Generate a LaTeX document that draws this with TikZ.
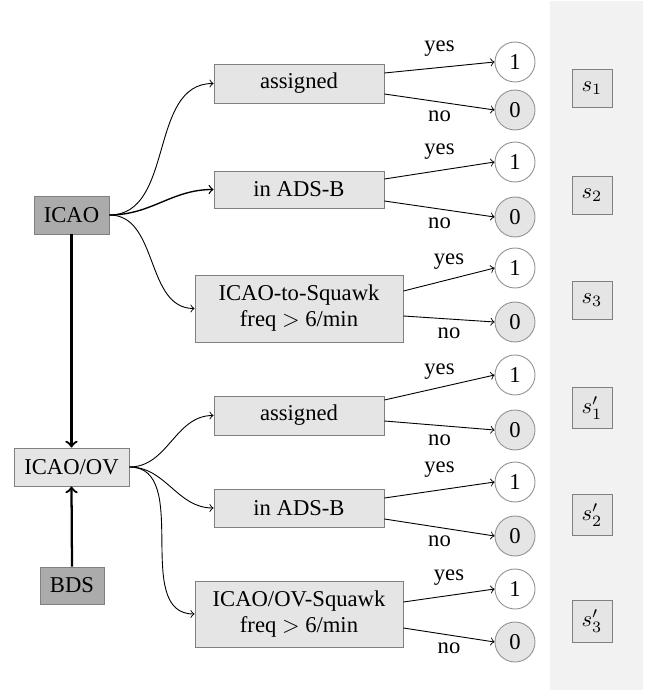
\documentclass[tikz,border=0pt]{standalone}
\usepackage{fontspec}
\setmainfont{Liberation Serif}
\newcommand\pxu{0.442pt}
\tikzset{
  x=\pxu, y=-\pxu,
  box/.style={draw=gray, fill=gray!20, inner sep=1pt, align=center, font=\fontsize{10}{11.5}\selectfont},
  darkbox/.style={box, fill=gray!66},
  one/.style={circle, draw=gray!85, fill=white, minimum size=40*\pxu, inner sep=0pt, font=\fontsize{10}{12}\selectfont},
  zero/.style={one, fill=gray!20},
  sbox/.style={draw=gray, fill=gray!20, minimum width=40*\pxu, minimum height=38*\pxu, inner sep=0pt},
  arr/.style={->, >=to},
  vert/.style={->, >=to, line width=1pt},
  lbl/.style={font=\fontsize{10}{12}\selectfont, inner sep=0pt},
}
\begin{document}
\begin{tikzpicture}
\useasboundingbox (0,0) rectangle (646,691);
\fill[gray!10] (550,1) rectangle (643,690);

% source nodes
\node[darkbox, minimum width=75*\pxu, minimum height=38*\pxu] (icao) at (71.5,215) {ICAO};
\node[box, minimum width=115*\pxu, minimum height=38*\pxu] (icaoov) at (71.5,467) {ICAO/OV};
\node[darkbox, minimum width=64*\pxu, minimum height=37*\pxu] (bds) at (72,585.5) {BDS};

% test boxes
\node[box, minimum width=170*\pxu, minimum height=39*\pxu] (a1) at (299,83.5) {assigned};
\node[box, minimum width=170*\pxu, minimum height=37*\pxu] (b1) at (299,189.5) {in ADS-B};
\node[box, minimum width=208*\pxu, minimum height=67*\pxu] (c1) at (299,308.5) {ICAO-to-Squawk\\freq $>$ 6/min};
\node[box, minimum width=170*\pxu, minimum height=39*\pxu] (a2) at (299,415.5) {assigned};
\node[box, minimum width=170*\pxu, minimum height=38*\pxu] (b2) at (299,508) {in ADS-B};
\node[box, minimum width=208*\pxu, minimum height=66*\pxu] (c2) at (299,614) {ICAO/OV-Squawk\\freq $>$ 6/min};

% result circles
\node[one]  (a1y) at (515,62)  {1};
\node[zero] (a1n) at (515,110) {0};
\node[one]  (b1y) at (515,162) {1};
\node[zero] (b1n) at (515,217) {0};
\node[one]  (c1y) at (515,268) {1};
\node[zero] (c1n) at (515,322) {0};
\node[one]  (a2y) at (515,375) {1};
\node[zero] (a2n) at (515,430) {0};
\node[one]  (b2y) at (515,482) {1};
\node[zero] (b2n) at (515,536) {0};
\node[one]  (c2y) at (515,589) {1};
\node[zero] (c2n) at (515,642) {0};

% score boxes
\node[sbox] (s1) at (592,88)  {$s_1$};
\node[sbox] (s2) at (592,195) {$s_2$};
\node[sbox] (s3) at (592,300) {$s_3$};
\node[sbox, minimum height=41*\pxu] (s1p) at (592,408) {$s'_1$};
\node[sbox, minimum height=41*\pxu] (s2p) at (592,515) {$s'_2$};
\node[sbox, minimum height=42*\pxu] (s3p) at (592,621) {$s'_3$};

% vertical arrows
\draw[vert] (icao.south) -- (icaoov.north);
\draw[vert] (bds.north) -- (icaoov.south);

% curved arrows
\draw[arr] (icao.east) to[out=0,in=180] (a1.west);
\draw[arr, semithick] (icao.east) to[out=0,in=180] (b1.west);
\draw[arr] (icao.east) to[out=0,in=180] (c1.west);
\draw[arr] (icaoov.east) to[out=0,in=180] (a2.west);
\draw[arr] (icaoov.east) to[out=0,in=180] (b2.west);
\draw[arr] (icaoov.east) to[out=0,in=180] (c2.west);

% yes / no edges
\draw[arr] ([yshift=10.5*\pxu]a1.east) -- node[lbl, yshift=19*\pxu] {yes} (a1y.west);
\draw[arr] ([yshift=-10.5*\pxu]a1.east) -- node[lbl, yshift=-14*\pxu] {no} (a1n.west);
\draw[arr] ([yshift=10.5*\pxu]b1.east) -- node[lbl, yshift=18.5*\pxu] {yes} (b1y.west);
\draw[arr] ([yshift=-11.5*\pxu]b1.east) -- node[lbl, yshift=-14*\pxu] {no} (b1n.west);
\draw[arr] ([yshift=17.5*\pxu]c1.east) -- node[lbl, yshift=17.5*\pxu] {yes} (c1y.west);
\draw[arr] ([yshift=-7.5*\pxu]c1.east) -- node[lbl, yshift=-14*\pxu] {no} (c1n.west);
\draw[arr] ([yshift=15.5*\pxu]a2.east) -- node[lbl, yshift=15.5*\pxu] {yes} (a2y.west);
\draw[arr] ([yshift=-5.5*\pxu]a2.east) -- node[lbl, yshift=-15*\pxu] {no} (a2n.west);
\draw[arr] ([yshift=10*\pxu]b2.east) -- node[lbl, yshift=20*\pxu] {yes} (b2y.west);
\draw[arr] ([yshift=-11*\pxu]b2.east) -- node[lbl, yshift=-14*\pxu] {no} (b2n.west);
\draw[arr] ([yshift=12*\pxu]c2.east) -- node[lbl, yshift=18*\pxu] {yes} (c2y.west);
\draw[arr] ([yshift=-14*\pxu]c2.east) -- node[lbl, yshift=-13*\pxu] {no} (c2n.west);
\end{tikzpicture}
\end{document}
